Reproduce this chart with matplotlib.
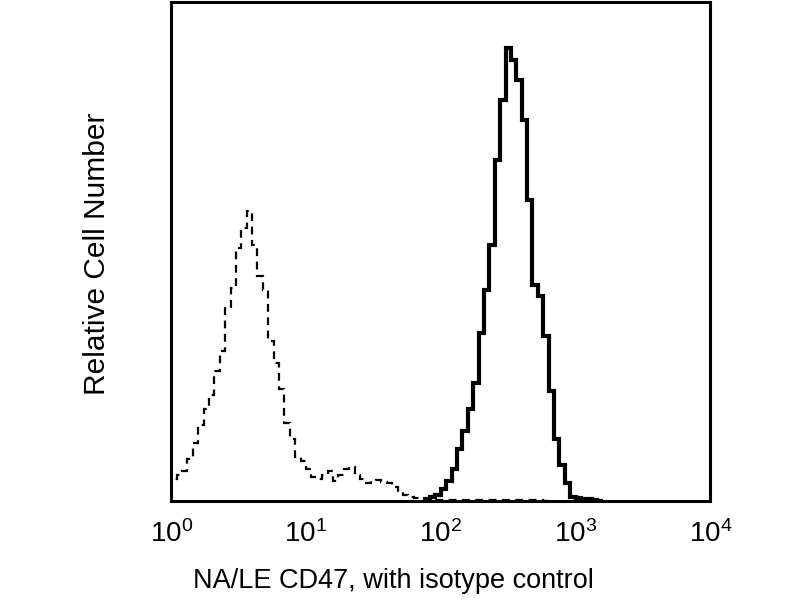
import numpy as np
import matplotlib
matplotlib.use("Agg")
import matplotlib.pyplot as plt

plt.rcParams["font.family"] = ["Liberation Sans", "DejaVu Sans"]
plt.rcParams["mathtext.fontset"] = "custom"
plt.rcParams["mathtext.rm"] = "Liberation Sans"

# histogram channels, log10 of fluorescence (bin left edges, step 0.04 decades)
step = 0.04

# isotype control (dashed), from log 0.00
iso_start = 0.0
iso_counts = [22, 26, 30, 42, 58, 76, 92, 106, 130, 150,
              194, 212, 252, 272, 289, 255, 224, 210, 160, 138,
              112, 78, 62, 44, 40, 32, 24, 22, 26, 30,
              20, 26, 32, 34, 26, 22, 18, 20, 21, 19,
              18, 14, 9, 6, 4, 3, 2, 1, 1, 0.5,
              1, 0.5, 1, 1, 0.5, 1, 0.5, 1, 0.5, 1,
              0.5, 1, 0.5, 0.5, 1, 0.5, 0.5, 0.5, 0.5, 0]

# CD47 stained (solid), from log 1.88
cd47_start = 1.88
cd47_counts = [2, 4, 6, 12, 20, 32, 52, 70, 92, 118,
               168, 210, 255, 340, 400, 452, 440, 420, 380, 300,
               215, 205, 165, 110, 62, 36, 18, 4, 3, 2,
               2, 1, 0]

iso_x = 10 ** (iso_start + step * np.arange(len(iso_counts) + 1))
cd47_x = 10 ** (cd47_start + step * np.arange(len(cd47_counts) + 1))

fig = plt.figure(figsize=(8, 6), dpi=100)
ax = fig.add_axes([0.214, 0.165, 0.674, 0.832])

ax.stairs(iso_counts, iso_x, color="black", linewidth=1.6,
          linestyle=(0, (3.5, 2.5)))
ax.stairs(cd47_counts, cd47_x, color="black", linewidth=3.0)

ax.set_xscale("log")
ax.set_xlim(1, 1e4)
ax.set_ylim(0, 498)
ax.set_xticks([1, 10, 100, 1000, 10000])
ax.set_xticklabels([r"$\mathregular{10^{%d}}$" % i for i in range(5)])
ax.xaxis.set_minor_locator(matplotlib.ticker.NullLocator())
ax.set_yticks([])
ax.tick_params(axis="x", length=0, labelsize=20, pad=14)
for s in ax.spines.values():
    s.set_linewidth(2.2)

fig.text(393 / 800, 1 - 581 / 600, "NA/LE CD47, with isotype control",
         fontsize=19.5, ha="center", va="center")
fig.text(97 / 800, 1 - 254 / 600, "Relative Cell Number",
         fontsize=21.5, ha="center", va="center", rotation=90)

fig.savefig("out.png", dpi=100)
